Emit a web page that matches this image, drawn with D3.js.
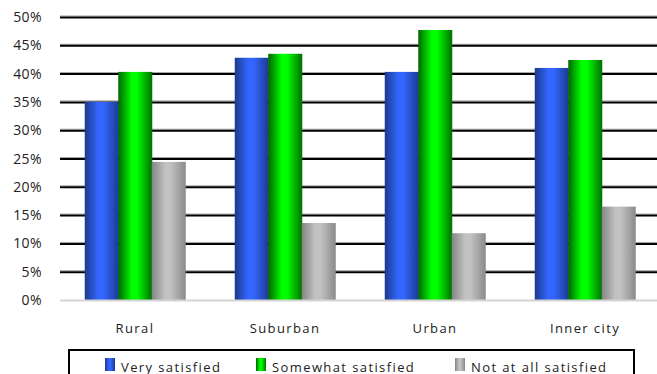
<!DOCTYPE html>
<html lang="en">
    <head>
        <title>Satisfaction by area</title>
        <meta charset="UTF-8">
        <script src="https://d3js.org/d3.v7.min.js"></script>
        <style>
            body { margin: 0; background: #fff; }
            text { font-family: "Open Sans", "Noto Sans", sans-serif; fill: #222; }
        </style>
    </head>
    <body>
        <script>
            const width = 657
            const height = 374

            // data
            const categories = ["Rural", "Suburban", "Urban", "Inner city"]
            const seriesNames = ["Very satisfied", "Somewhat satisfied", "Not at all satisfied"]
            const verySatisfied = [35.0, 42.8, 40.3, 41.0]
            const somewhatSatisfied = [40.3, 43.5, 47.7, 42.4]
            const notSatisfied = [24.4, 13.6, 11.8, 16.5]
            const yTicks = [0, 5, 10, 15, 20, 25, 30, 35, 40, 45, 50]

            const seriesValues = [verySatisfied, somewhatSatisfied, notSatisfied]
            // gradient stops: edge, highlight, edge
            const seriesColors = [
                ["#1b3a8c", "#3366ff", "#1d3a90"],
                ["#006600", "#00ff00", "#007000"],
                ["#858585", "#c2c2c2", "#8a8a8a"]
            ]

            const svg = d3.select("body")
                .append("svg")
                .attr("width", width)
                .attr("height", height)

            // gradients for the cylinder-ish bars
            const defs = svg.append("defs")
            seriesColors.forEach(function (c, i) {
                const g = defs.append("linearGradient")
                    .attr("id", "grad" + i)
                    .attr("x1", "0%").attr("x2", "100%")
                    .attr("y1", "0%").attr("y2", "0%")
                g.append("stop").attr("offset", "0%").attr("stop-color", c[0])
                g.append("stop").attr("offset", "40%").attr("stop-color", c[1])
                g.append("stop").attr("offset", "55%").attr("stop-color", c[1])
                g.append("stop").attr("offset", "100%").attr("stop-color", c[2])
            })

            const x = d3.scaleBand()
                .domain(categories)
                .range([60, 660])

            const xInner = d3.scaleBand()
                .domain(d3.range(seriesNames.length))
                .range([0, 100.5])

            const y = d3.scaleLinear()
                .domain([0, 50])
                .range([300, 17])

            // gridlines
            const grid = svg.append("g")
            yTicks.filter(function (t) { return t > 0 }).forEach(function (t) {
                grid.append("line")
                    .attr("x1", 60).attr("x2", 657)
                    .attr("y1", y(t) - 1).attr("y2", y(t) - 1)
                    .attr("stroke", "#a0a0a0").attr("stroke-width", 1)
                grid.append("line")
                    .attr("x1", 60).attr("x2", 657)
                    .attr("y1", y(t) + 0.5).attr("y2", y(t) + 0.5)
                    .attr("stroke", "#000").attr("stroke-width", 2)
            })

            // y tick labels
            svg.append("g")
                .selectAll("text")
                .data(yTicks)
                .enter()
                .append("text")
                .attr("x", 42)
                .attr("y", function (d) { return y(d) + 5 })
                .attr("text-anchor", "end")
                .style("font-size", "14px")
                .style("letter-spacing", "0.4px")
                .text(function (d) { return d + "%" })

            // bars
            const groups = svg.append("g")
                .selectAll("g")
                .data(categories)
                .enter()
                .append("g")
                .attr("transform", function (d) {
                    return `translate(${x(d) + (x.bandwidth() - 100.5) / 2}, 0)`
                })

            groups.selectAll("rect")
                .data(function (d, ci) {
                    return seriesValues.map(function (vals, si) { return { s: si, v: vals[ci] } })
                })
                .enter()
                .append("rect")
                .attr("x", function (d) { return xInner(d.s) })
                .attr("width", xInner.bandwidth() + 0.5)
                .attr("y", function (d) { return y(d.v) })
                .attr("height", function (d) { return y(0) - y(d.v) })
                .attr("fill", function (d) { return "url(#grad" + d.s + ")" })

            // floor line
            svg.append("line")
                .attr("x1", 60).attr("x2", 657)
                .attr("y1", y(0) + 0.5).attr("y2", y(0) + 0.5)
                .attr("stroke", "#d4d4d4").attr("stroke-width", 2)

            // category labels
            svg.append("g")
                .selectAll("text")
                .data(categories)
                .enter()
                .append("text")
                .attr("x", function (d) { return x(d) + x.bandwidth() / 2 })
                .attr("y", 333)
                .attr("text-anchor", "middle")
                .style("font-size", "13px")
                .style("letter-spacing", "1.4px")
                .text(function (d) { return d })

            // legend
            const legend = svg.append("g")
            legend.append("rect")
                .attr("x", 69).attr("y", 350)
                .attr("width", 565).attr("height", 40)
                .attr("fill", "none")
                .attr("stroke", "#000")
                .attr("stroke-width", 2)

            const legendX = [105, 256, 455]
            const items = legend.selectAll("g.item")
                .data(seriesNames)
                .enter()
                .append("g")
                .attr("class", "item")
                .attr("transform", function (d, i) { return `translate(${legendX[i]}, 358)` })

            items.append("rect")
                .attr("width", 10).attr("height", 13)
                .attr("fill", function (d, i) { return "url(#grad" + i + ")" })

            items.append("text")
                .attr("x", 16)
                .attr("y", 14)
                .style("font-size", "13px")
                .style("letter-spacing", "1.4px")
                .text(function (d) { return d })
        </script>
    </body>
</html>
